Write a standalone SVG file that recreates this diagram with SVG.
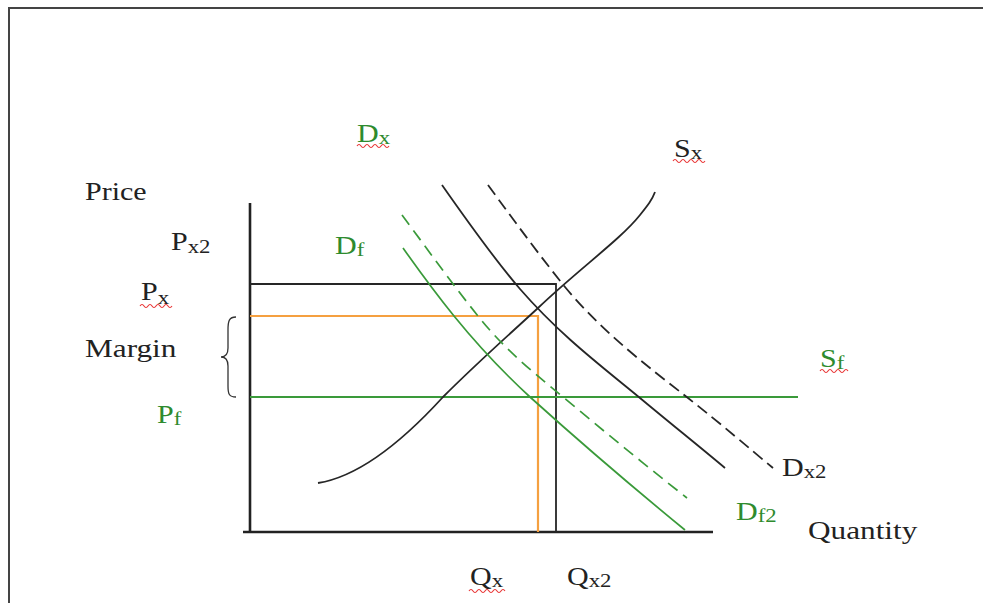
<svg xmlns="http://www.w3.org/2000/svg" width="983" height="603" viewBox="0 0 983 603">
<style>
.lbl{font-family:"Liberation Serif","Times New Roman",serif;font-size:25px;fill:#222}
.g{fill:#2e8b2e}
.sub{font-size:19px}
.blk{fill:none;stroke:#262626;stroke-width:1.8}
.grn{fill:none;stroke:#3a9a3a;stroke-width:1.7}
.ax{fill:none;stroke:#222;stroke-width:2.6}
.org{fill:none;stroke:#f5a040;stroke-width:2.2}
.sq{fill:none;stroke:#e83030;stroke-width:1.1}
</style>
<rect width="983" height="603" fill="#fff"/>
<path d="M9,603 L9,8 L983,8" fill="none" stroke="#444" stroke-width="2"/>

<g id="connectors">
  <path id="y-axis" class="ax" d="M250,203 L250,533"/>
  <path id="x-axis" class="ax" d="M243,532 L713,532"/>
  <path id="px-line" class="blk" stroke-width="1.6" d="M250,284 L556,284 L556,532"/>
  <path id="orange-line" class="org" d="M250,316 L538,316 L538,532"/>
  <path id="sf-line" fill="none" stroke="#3a9a3a" stroke-width="2.2" d="M250,397 L798,397"/>
  <path id="sx-curve" class="blk" d="M318,483 C350,478 390,455 443,397 C480,360 510,334 538,308 C580,268 620,240 640,215 C648,205 652,200 655,192"/>
  <path id="dx-curve" class="blk" d="M442,185 C470,225 495,260 520,289 C560,335 600,365 640,398 C670,423 700,447 725,468"/>
  <path id="dx2-curve" class="blk" stroke-dasharray="12,6" d="M488,185 C515,222 540,256 565,287 C605,335 650,368 688,398 C720,423 750,449 773,468"/>
  <path id="df-curve" class="grn" d="M403,248 C420,272 437,295 454,316 C480,348 505,374 530,397 C580,442 630,485 685,530"/>
  <path id="df2-curve" class="grn" stroke-width="2" stroke-dasharray="12,7" d="M402,215 C428,250 453,285 478,316 C505,350 533,372 563,397 C605,432 645,465 687,498"/>
  <path id="brace" fill="none" stroke="#333" stroke-width="1.3" d="M236,317 C229,317 228,321 228,330 L228,348 C228,354 226,357 221,357 C226,357 228,360 228,366 L228,386 C228,394 229,397 236,397"/>
</g>

<g id="label-price"><text class="lbl" transform="translate(85,200) scale(1.2,1)">Price</text></g>
<g id="label-px2"><text class="lbl" transform="translate(171,250) scale(1.2,1)">P<tspan class="sub" dy="3">x2</tspan></text></g>
<g id="label-px"><text class="lbl" transform="translate(141,300) scale(1.2,1)">P<tspan class="sub" dy="4">x</tspan></text>
  <path class="sq" d="M140,306 q2,-3 4,0 t4,0 t4,0 t4,0 t4,0 t4,0 t4,0 t4,0"/></g>
<g id="label-margin"><text class="lbl" transform="translate(85,357) scale(1.25,1)">Margin</text></g>
<g id="label-pf"><text class="lbl g" transform="translate(157,423) scale(1.2,1)">P<tspan class="sub" dy="2">f</tspan></text></g>
<g id="label-dx"><text class="lbl g" transform="translate(357,142) scale(1.2,1)">D<tspan class="sub" dy="2">x</tspan></text>
  <path class="sq" d="M357,146 q2,-3 4,0 t4,0 t4,0 t4,0 t4,0 t4,0 t4,0 t4,0"/></g>
<g id="label-df"><text class="lbl g" transform="translate(335,254) scale(1.2,1)">D<tspan class="sub" dy="2">f</tspan></text></g>
<g id="label-sx"><text class="lbl" transform="translate(674,157) scale(1.2,1)">S<tspan class="sub" dy="2">x</tspan></text>
  <path class="sq" d="M673,161 q2,-3 4,0 t4,0 t4,0 t4,0 t4,0 t4,0 t4,0 t4,0"/></g>
<g id="label-sf"><text class="lbl g" transform="translate(820,367) scale(1.2,1)">S<tspan class="sub" dy="2">f</tspan></text>
  <path class="sq" d="M820,371 q2,-3 4,0 t4,0 t4,0 t4,0 t4,0 t4,0 t4,0"/></g>
<g id="label-dx2"><text class="lbl" transform="translate(782,476) scale(1.2,1)">D<tspan class="sub" dy="2">x2</tspan></text></g>
<g id="label-df2"><text class="lbl g" transform="translate(736,520) scale(1.2,1)">D<tspan class="sub" dy="2">f2</tspan></text></g>
<g id="label-quantity"><text class="lbl" transform="translate(808,539) scale(1.25,1)">Quantity</text></g>
<g id="label-qx"><text class="lbl" transform="translate(470,585) scale(1.2,1)">Q<tspan class="sub" dy="2">x</tspan></text>
  <path class="sq" d="M469,591 q2,-3 4,0 t4,0 t4,0 t4,0 t4,0 t4,0 t4,0 t4,0 t4,0"/></g>
<g id="label-qx2"><text class="lbl" transform="translate(567,585) scale(1.2,1)">Q<tspan class="sub" dy="2">x2</tspan></text></g>
</svg>
